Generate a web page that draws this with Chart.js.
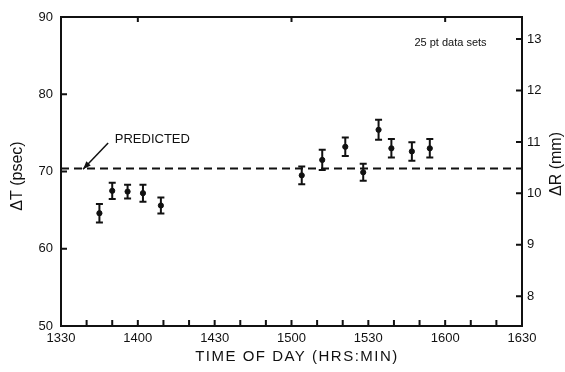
<!DOCTYPE html>
<html>
<head>
<meta charset="utf-8">
<script src="https://cdn.jsdelivr.net/npm/chart.js@4.4.0/dist/chart.umd.min.js"></script>
<style>
  html, body { margin: 0; padding: 0; background: #fff; }
</style>
</head>
<body>
<canvas id="myChart" width="565" height="372"></canvas>
<script>
// measured points (time of day HH:MM), delta T in psec and the error bar half size
const times  = ['13:45','13:50','13:56','14:02','14:09','15:04','15:12','15:21','15:28','15:34','15:39','15:47','15:54'];
const deltaT = [64.6, 67.5, 67.4, 67.2, 65.6, 69.5, 71.5, 73.2, 69.9, 75.4, 73.0, 72.6, 73.0];
const errT   = [1.2, 1.05, 0.9, 1.1, 1.05, 1.15, 1.3, 1.2, 1.1, 1.3, 1.2, 1.2, 1.2];

// predicted level (dashed line)
const predTimes = ['13:30', '16:30'];
const predicted = [70.4, 70.4];

// tick labels
const xLabels = ['1330','1400','1430','1500','1530','1600','1630'];
const leftRange = [50, 90];
const rightRange = [7.42, 13.43];   // delta R (mm), same span as delta T * 0.15

const black = '#111';
const fam = '"Liberation Sans", Arial, Helvetica, sans-serif';

function toMin(s){
    const parts = s.split(':');
    return parts[0] * 60 + Number(parts[1]);
}
const xMin = toMin(predTimes[0]);
const xMax = toMin(predTimes[1]);

// error bars, inward tick marks, titles and notes
const extras = {
    id: 'extras',
    afterDatasetsDraw(chart){
        const {ctx, scales} = chart;
        const x = scales.x, y = scales.y;
        ctx.save();
        ctx.strokeStyle = black;
        ctx.lineWidth = 2;
        ctx.beginPath();
        for (var i = 0; i < times.length; i++){
            const px = x.getPixelForValue(toMin(times[i]));
            const top = y.getPixelForValue(deltaT[i] + errT[i]);
            const bot = y.getPixelForValue(deltaT[i] - errT[i]);
            ctx.moveTo(px, top); ctx.lineTo(px, bot);
            ctx.moveTo(px - 3.5, top); ctx.lineTo(px + 3.5, top);
            ctx.moveTo(px - 3.5, bot); ctx.lineTo(px + 3.5, bot);
        }
        ctx.stroke();
        ctx.restore();
    },
    afterDraw(chart){
        const {ctx, chartArea: a, scales} = chart;
        const x = scales.x, y = scales.y, y2 = scales.y2;
        ctx.save();
        ctx.strokeStyle = black;
        ctx.lineWidth = 2;
        ctx.beginPath();
        x.ticks.forEach(t => {
            if (t.value <= x.min || t.value >= x.max) return;
            const px = x.getPixelForValue(t.value);
            ctx.moveTo(px, a.bottom); ctx.lineTo(px, a.bottom - 6);
            if (t.value % 60 === 0) {
                ctx.moveTo(px, a.top); ctx.lineTo(px, a.top + 5);
            }
        });
        y.ticks.forEach(t => {
            if (t.value <= y.min || t.value >= y.max) return;
            const py = y.getPixelForValue(t.value);
            ctx.moveTo(a.left, py); ctx.lineTo(a.left + 6, py);
        });
        y2.ticks.forEach(t => {
            const py = y2.getPixelForValue(t.value);
            ctx.moveTo(a.right, py); ctx.lineTo(a.right - 6, py);
        });
        ctx.stroke();

        // arrow to the predicted line
        const tx = x.getPixelForValue(818.6), ty = y.getPixelForValue(70.3);
        const sx = x.getPixelForValue(828.4), sy = y.getPixelForValue(73.7);
        ctx.lineWidth = 1.5;
        ctx.beginPath();
        ctx.moveTo(sx, sy); ctx.lineTo(tx, ty);
        ctx.stroke();
        const ang = Math.atan2(ty - sy, tx - sx);
        ctx.fillStyle = black;
        ctx.beginPath();
        ctx.moveTo(tx, ty);
        ctx.lineTo(tx - 8 * Math.cos(ang) + 3 * Math.sin(ang), ty - 8 * Math.sin(ang) - 3 * Math.cos(ang));
        ctx.lineTo(tx - 8 * Math.cos(ang) - 3 * Math.sin(ang), ty - 8 * Math.sin(ang) + 3 * Math.cos(ang));
        ctx.closePath();
        ctx.fill();

        ctx.fillStyle = black;
        ctx.textBaseline = 'middle';
        ctx.textAlign = 'left';
        ctx.font = '13px ' + fam;
        ctx.fillText('PREDICTED', x.getPixelForValue(831), y.getPixelForValue(74.1));
        ctx.font = '11px ' + fam;
        ctx.fillText('25 pt data sets', x.getPixelForValue(948), y.getPixelForValue(86.6));

        // axis titles
        ctx.textAlign = 'center';
        ctx.font = '15px ' + fam;
        ctx.letterSpacing = '1.5px';
        ctx.fillText('TIME OF DAY (HRS:MIN)', 297, 357);
        ctx.letterSpacing = '0px';
        ctx.font = '16px ' + fam;
        ctx.save();
        ctx.translate(18, 176);
        ctx.rotate(-Math.PI / 2);
        ctx.fillText('\u0394T (psec)', 0, 0);
        ctx.restore();
        ctx.save();
        ctx.translate(557, 164);
        ctx.rotate(-Math.PI / 2);
        ctx.fillText('\u0394R (mm)', 0, 0);
        ctx.restore();
        ctx.restore();
    }
};

const ctx = document.getElementById('myChart');

new Chart(ctx, {
    type: 'scatter',
    data: {
        datasets: [{
            type: 'line',
            label: 'Predicted',
            data: predTimes.map((t, i) => ({x: toMin(t), y: predicted[i]})),
            borderColor: black,
            borderWidth: 2,
            borderDash: [8, 5],
            pointRadius: 0,
            fill: false
        }, {
            label: '\u0394T',
            data: times.map((t, i) => ({x: toMin(t), y: deltaT[i]})),
            backgroundColor: black,
            borderColor: black,
            pointRadius: 2.6,
            pointHoverRadius: 2.6
        }]
    },
    options: {
        responsive: false,
        animation: false,
        events: [],
        layout: {padding: 0},
        plugins: {legend: {display: false}, tooltip: {enabled: false}},
        scales: {
            x: {
                type: 'linear',
                position: 'bottom',
                min: xMin,
                max: xMax,
                afterFit: s => { s.height = 46; },
                grid: {display: false, drawTicks: false},
                border: {display: true, color: black, width: 2},
                ticks: {
                    stepSize: 10,
                    autoSkip: false,
                    maxRotation: 0,
                    padding: 5,
                    color: black,
                    font: {family: fam, size: 13},
                    callback: v => {
                        const k = (v - xMin) / 30;
                        return Number.isInteger(k) ? xLabels[k] : '';
                    }
                }
            },
            x2: {
                type: 'linear',
                position: 'top',
                min: xMin,
                max: xMax,
                afterFit: s => { s.height = 17; },
                grid: {display: false, drawTicks: false},
                border: {display: true, color: black, width: 2},
                ticks: {display: false}
            },
            y: {
                position: 'left',
                min: leftRange[0],
                max: leftRange[1],
                afterFit: s => { s.width = 61; },
                grid: {display: false, drawTicks: false},
                border: {display: true, color: black, width: 2},
                ticks: {stepSize: 10, padding: 8, color: black, font: {family: fam, size: 13}}
            },
            y2: {
                position: 'right',
                min: rightRange[0],
                max: rightRange[1],
                afterFit: s => { s.width = 43; },
                grid: {display: false, drawTicks: false},
                border: {display: true, color: black, width: 2},
                ticks: {stepSize: 1, includeBounds: false, padding: 5, color: black, font: {family: fam, size: 13}}
            }
        }
    },
    plugins: [extras]
});
</script>
</body>
</html>
